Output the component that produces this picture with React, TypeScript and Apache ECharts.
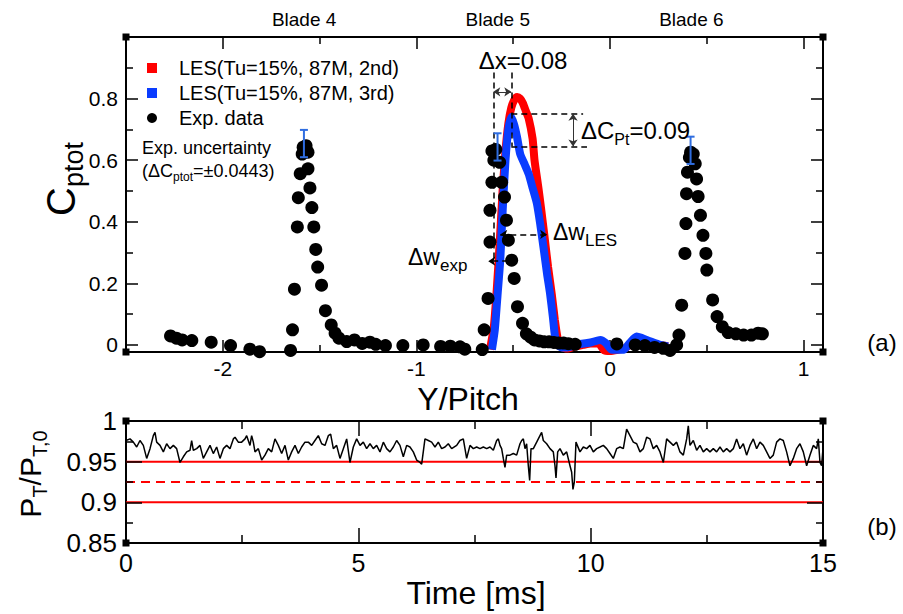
import React, { useEffect, useRef } from "react";
import * as echarts from "echarts";

const FONT = "'Liberation Sans', Arial, Helvetica, sans-serif";

// ---------- Panel (a): total pressure coefficient vs Y/Pitch ----------
const blade4Exp: [number, number][] = [
  [-2.27, 0.029], [-2.24, 0.022], [-2.21, 0.016], [-2.16, 0.014], [-2.06, 0.009],
  [-1.96, -0.002], [-1.86, -0.014], [-1.81, -0.022], [-1.65, -0.018], [-1.64, 0.049],
  [-1.63, 0.181], [-1.615, 0.383], [-1.61, 0.478], [-1.6, 0.556], [-1.59, 0.62],
  [-1.585, 0.642], [-1.57, 0.647], [-1.56, 0.626], [-1.56, 0.572], [-1.55, 0.51],
  [-1.54, 0.446], [-1.53, 0.383], [-1.52, 0.31], [-1.51, 0.253], [-1.49, 0.194],
  [-1.47, 0.111], [-1.44, 0.065], [-1.42, 0.038], [-1.4, 0.022], [-1.36, 0.011],
  [-1.32, 0.016], [-1.28, 0.005], [-1.24, 0.009], [-1.21, 0.002], [-1.16, -0.002],
  [-1.07, -0.002],
];
const blade5Exp: [number, number][] = [
  [-0.965, 0.0], [-0.875, -0.005], [-0.825, -0.004], [-0.775, -0.006], [-0.75, -0.014],
  [-0.66, -0.015], [-0.65, 0.049], [-0.63, 0.151], [-0.62, 0.334], [-0.62, 0.437],
  [-0.61, 0.528], [-0.6, 0.6], [-0.61, 0.63], [-0.59, 0.635], [-0.57, 0.593],
  [-0.56, 0.528], [-0.545, 0.48], [-0.535, 0.405], [-0.525, 0.34], [-0.508, 0.275],
  [-0.495, 0.216], [-0.478, 0.124], [-0.452, 0.07], [-0.432, 0.036], [-0.41, 0.025],
  [-0.39, 0.016], [-0.365, 0.013], [-0.34, 0.01], [-0.315, 0.01], [-0.29, 0.008],
  [-0.265, 0.006], [-0.24, 0.006], [-0.215, 0.004], [-0.18, 0.002],
];
const blade6Exp: [number, number][] = [
  [0.035, 0.003], [0.13, 0.0], [0.18, -0.002], [0.23, -0.008], [0.275, -0.011],
  [0.31, -0.018], [0.344, 0.0], [0.356, 0.032], [0.37, 0.129], [0.387, 0.297],
  [0.392, 0.394], [0.395, 0.491], [0.4, 0.561], [0.41, 0.609], [0.416, 0.626],
  [0.43, 0.62], [0.44, 0.588], [0.447, 0.539], [0.455, 0.482], [0.467, 0.421],
  [0.48, 0.356], [0.495, 0.297], [0.5, 0.243], [0.53, 0.146], [0.553, 0.092],
  [0.58, 0.059], [0.61, 0.04], [0.65, 0.036], [0.69, 0.032], [0.73, 0.032],
  [0.765, 0.038], [0.787, 0.036],
];
const les2nd: [number, number][] = [
  [-0.62, -0.015], [-0.6, 0.06], [-0.585, 0.18], [-0.57, 0.33], [-0.555, 0.5],
  [-0.54, 0.63], [-0.525, 0.72], [-0.51, 0.77], [-0.495, 0.795], [-0.48, 0.805],
  [-0.465, 0.8], [-0.45, 0.785], [-0.435, 0.76], [-0.42, 0.735], [-0.4, 0.67],
  [-0.39, 0.6], [-0.37, 0.51], [-0.355, 0.437], [-0.34, 0.36], [-0.32, 0.253],
  [-0.3, 0.16], [-0.285, 0.081], [-0.27, 0.02], [-0.255, -0.005], [-0.22, -0.012],
  [-0.18, -0.005], [-0.14, 0.0], [-0.1, 0.005], [-0.06, 0.005], [-0.03, -0.018],
  [0.0, -0.02], [0.04, -0.016], [0.08, -0.01], [0.12, 0.01], [0.16, 0.015],
  [0.2, 0.008], [0.25, 0.0], [0.3, -0.004],
];
const les3rd: [number, number][] = [
  [-0.61, -0.015], [-0.595, 0.05], [-0.58, 0.17], [-0.567, 0.275], [-0.555, 0.43],
  [-0.54, 0.6], [-0.525, 0.7], [-0.51, 0.74], [-0.495, 0.715], [-0.48, 0.674],
  [-0.464, 0.62], [-0.44, 0.585], [-0.42, 0.555], [-0.4, 0.51], [-0.378, 0.46],
  [-0.36, 0.39], [-0.344, 0.318], [-0.325, 0.23], [-0.31, 0.168], [-0.295, 0.09],
  [-0.284, 0.027], [-0.27, 0.0], [-0.25, -0.008], [-0.22, -0.008], [-0.155, 0.003],
  [-0.1, 0.008], [-0.05, 0.016], [-0.02, 0.005], [0.01, -0.016], [0.07, -0.016],
  [0.1, 0.005], [0.137, 0.027], [0.19, 0.016], [0.26, 0.0], [0.3, -0.005],
];
const errBarX = [-1.581, -0.581, 0.416];
const errBarY = [0.654, 0.643, 0.632];
const errBarHalf = 0.0443;
const bladeNames = ["Blade 4", "Blade 5", "Blade 6"];
const bladePos = [-1.58, -0.58, 0.42];
const xMajorA = [-2, -1, 0, 1];
const xMinorA = [-1.5, -0.5, 0.5];
const yMajorA = [0, 0.2, 0.4, 0.6, 0.8];
const yMinorA = [0.1, 0.3, 0.5, 0.7, 0.9];

// annotation guides (data coordinates)
const guideDashed: [number, number][][] = [
  [[-0.603, 0.885], [-0.603, 0.272]],
  [[-0.51, 0.885], [-0.51, 0.644]],
  [[-0.51, 0.751], [-0.139, 0.751]],
  [[-0.51, 0.644], [-0.119, 0.644]],
];
const guideArrowsSolid: [number, number][][] = [
  [[-0.603, 0.822], [-0.51, 0.822]],
  [[-0.191, 0.751], [-0.191, 0.644]],
];
const guideArrowsDashed: [number, number][][] = [
  [[-0.567, 0.359], [-0.325, 0.359]],
];
const guideArrowOneSide: [number, number][][] = [
  [[-0.526, 0.272], [-0.629, 0.272]],
];

// ---------- Panel (b): P_T / P_T,0 vs time ----------
const totalPressure: [number, number][] = [
  [0, 0.976], [0.014, 0.976], [0.086, 0.978], [0.158, 0.974], [0.23, 0.968], [0.301, 0.976],
  [0.373, 0.97], [0.445, 0.954], [0.517, 0.966], [0.588, 0.982], [0.624, 0.986], [0.66, 0.974],
  [0.732, 0.97], [0.804, 0.962], [0.875, 0.972], [0.947, 0.966], [1.019, 0.97], [1.09, 0.966],
  [1.162, 0.949], [1.234, 0.956], [1.306, 0.962], [1.377, 0.964], [1.413, 0.976], [1.449, 0.964],
  [1.521, 0.966], [1.593, 0.97], [1.664, 0.954], [1.736, 0.962], [1.808, 0.97], [1.879, 0.96],
  [1.951, 0.968], [2.023, 0.954], [2.095, 0.966], [2.166, 0.97], [2.238, 0.966], [2.31, 0.978],
  [2.346, 0.98], [2.417, 0.974], [2.489, 0.974], [2.561, 0.978], [2.597, 0.982], [2.668, 0.97],
  [2.704, 0.982], [2.74, 0.974], [2.776, 0.962], [2.848, 0.966], [2.92, 0.952], [2.991, 0.958],
  [3.063, 0.966], [3.135, 0.962], [3.206, 0.978], [3.278, 0.97], [3.35, 0.96], [3.422, 0.97],
  [3.493, 0.952], [3.565, 0.962], [3.637, 0.97], [3.709, 0.96], [3.78, 0.968], [3.852, 0.974],
  [3.924, 0.974], [3.996, 0.97], [4.067, 0.976], [4.139, 0.982], [4.211, 0.972], [4.282, 0.97],
  [4.354, 0.982], [4.404, 0.984], [4.462, 0.966], [4.533, 0.97], [4.605, 0.954], [4.677, 0.966],
  [4.749, 0.978], [4.82, 0.949], [4.892, 0.968], [4.964, 0.978], [5.036, 0.97], [5.107, 0.974],
  [5.179, 0.966], [5.251, 0.972], [5.322, 0.966], [5.394, 0.97], [5.466, 0.962], [5.538, 0.974],
  [5.609, 0.966], [5.681, 0.962], [5.753, 0.968], [5.825, 0.976], [5.896, 0.97], [5.968, 0.956],
  [6.04, 0.97], [6.111, 0.968], [6.183, 0.962], [6.255, 0.952], [6.327, 0.949], [6.363, 0.947],
  [6.434, 0.978], [6.506, 0.976], [6.578, 0.974], [6.65, 0.968], [6.721, 0.974], [6.793, 0.966],
  [6.865, 0.968], [6.936, 0.972], [7.008, 0.966], [7.116, 0.97], [7.187, 0.976], [7.259, 0.978],
  [7.331, 0.954], [7.403, 0.97], [7.475, 0.966], [7.546, 0.968], [7.618, 0.966], [7.69, 0.968],
  [7.762, 0.966], [7.833, 0.968], [7.905, 0.964], [7.977, 0.976], [8.013, 0.978], [8.049, 0.97],
  [8.084, 0.966], [8.12, 0.954], [8.156, 0.943], [8.192, 0.958], [8.264, 0.958], [8.335, 0.96],
  [8.407, 0.958], [8.479, 0.972], [8.515, 0.976], [8.551, 0.978], [8.587, 0.966], [8.622, 0.972],
  [8.658, 0.945], [8.687, 0.927], [8.716, 0.966], [8.766, 0.966], [8.838, 0.974], [8.909, 0.982],
  [8.945, 0.986], [8.981, 0.976], [9.053, 0.972], [9.125, 0.966], [9.196, 0.962], [9.232, 0.945],
  [9.254, 0.93], [9.29, 0.962], [9.34, 0.966], [9.411, 0.958], [9.483, 0.962], [9.555, 0.945],
  [9.591, 0.937], [9.619, 0.916], [9.648, 0.925], [9.684, 0.974], [9.77, 0.962], [9.842, 0.968],
  [9.914, 0.966], [9.985, 0.97], [10.057, 0.962], [10.129, 0.966], [10.201, 0.968], [10.272, 0.97],
  [10.344, 0.966], [10.416, 0.96], [10.487, 0.954], [10.559, 0.966], [10.631, 0.968], [10.703, 0.966],
  [10.774, 0.99], [10.846, 0.982], [10.918, 0.974], [10.99, 0.972], [11.061, 0.962], [11.133, 0.966],
  [11.205, 0.98], [11.277, 0.978], [11.348, 0.966], [11.42, 0.97], [11.492, 0.962], [11.564, 0.949],
  [11.635, 0.978], [11.707, 0.974], [11.779, 0.97], [11.85, 0.974], [11.922, 0.962], [11.994, 0.958],
  [12.066, 0.978], [12.101, 0.994], [12.137, 0.97], [12.209, 0.976], [12.281, 0.964], [12.352, 0.97],
  [12.424, 0.962], [12.496, 0.966], [12.568, 0.962], [12.639, 0.966], [12.711, 0.962], [12.783, 0.968],
  [12.854, 0.962], [12.926, 0.966], [12.998, 0.962], [13.07, 0.966], [13.141, 0.978], [13.213, 0.966],
  [13.285, 0.972], [13.356, 0.958], [13.428, 0.97], [13.5, 0.978], [13.572, 0.966], [13.643, 0.974],
  [13.715, 0.97], [13.787, 0.962], [13.858, 0.954], [13.93, 0.958], [14.002, 0.974], [14.074, 0.978],
  [14.145, 0.976], [14.217, 0.962], [14.289, 0.945], [14.361, 0.954], [14.432, 0.966], [14.504, 0.972],
  [14.576, 0.962], [14.648, 0.945], [14.719, 0.958], [14.791, 0.97], [14.863, 0.966], [14.899, 0.978],
  [14.935, 0.949], [14.97, 0.945], [15, 0.966],
];
const refSolidLevels = [0.95, 0.9];
const refDashedLevel = 0.925;
const timeRange = [0, 15];
const xMajorB = [5, 10];
const xLabelsB = [0, 5, 10, 15];
const xMinorB = [2.5, 7.5, 12.5];
const yMajorB = [0.9, 0.95];
const yLabelsB = [0.85, 0.9, 0.95, 1];
const yMinorB = [0.875, 0.925, 0.975];

const LES2 = "LES(Tu=15%, 87M, 2nd)";
const LES3 = "LES(Tu=15%, 87M, 3rd)";
const EXP = "Exp. data";
const RED = "#ff0000";
const BLUE = "#0a3cff";

const tickLine = { color: "#000", width: 1.5 };

function ax(grid: number, pos: string, min: number, max: number, ticks: number[], len: number, label?: any) {
  return {
    type: "value", gridIndex: grid, position: pos, min, max, z: 3,
    axisLine: { show: false, onZero: false }, splitLine: { show: false },
    axisTick: { show: true, inside: true, length: len, customValues: ticks, lineStyle: tickLine },
    axisLabel: label ? label : { show: false },
  };
}

function subText(x: number, y: number, text: string, F: number, f: number, L: number, align: string, rotation = 0) {
  return {
    type: "text", x, y, rotation, silent: true, z: 100,
    style: {
      text, align, verticalAlign: "middle", textAlign: align, textVerticalAlign: "middle",
      fill: "#000", fontFamily: FONT, fontSize: F,
      rich: {
        m: { fontSize: F, lineHeight: L, fontFamily: FONT, fill: "#000" },
        s: { fontSize: f, lineHeight: f, verticalAlign: "bottom", fontFamily: FONT, fill: "#000" },
      },
    },
  };
}
function plainText(x: number, y: number, text: string, size: number, align = "center", rotation = 0) {
  return {
    type: "text", x, y, rotation, silent: true, z: 100,
    style: {
      text, align, verticalAlign: "middle", textAlign: align, textVerticalAlign: "middle",
      fill: "#000", fontFamily: FONT, fontSize: size,
    },
  };
}
function corner(cx: number, cy: number) {
  return { type: "rect", shape: { x: cx - 3.5, y: cy - 3.5, width: 7, height: 7 }, style: { fill: "#000" }, silent: true, z: 100 };
}

export default function App() {
  const ref = useRef<HTMLDivElement>(null);
  useEffect(() => {
    if (!ref.current) return;
    const chart = echarts.init(ref.current, null, { renderer: "svg" });

    const mk = (pair: [number, number][], opts: any, endSym: string[]) => [
      { coord: pair[0], symbol: endSym[0], symbolSize: 7, lineStyle: opts },
      { coord: pair[1], symbol: endSym[1], symbolSize: 7 },
    ];
    const dashStyle = { type: [6, 4], color: "#000", width: 1.5 };
    const solidThin = { type: "solid", color: "#333", width: 1 };

    const option: any = {
      animation: false,
      backgroundColor: "#fff",
      textStyle: { fontFamily: FONT },
      grid: [
        { left: 126, top: 37, width: 697, height: 315, show: true, borderColor: "#000", borderWidth: 2, backgroundColor: "transparent" },
        { left: 126, top: 421, width: 697, height: 122, show: true, borderColor: "#000", borderWidth: 2, backgroundColor: "transparent" },
      ],
      legend: {
        left: 142, top: 53, orient: "vertical", itemGap: 5, itemWidth: 10, itemHeight: 10,
        textStyle: { fontSize: 20, color: "#000", fontFamily: FONT, padding: [0, 0, 0, 17] },
        data: [
          { name: LES2, icon: "rect" },
          { name: LES3, icon: "rect" },
          { name: EXP, icon: "circle" },
        ],
        selectedMode: false,
      },
      xAxis: [
        ax(0, "bottom", -2.5, 1.1, xMajorA, 12, {
          show: true, customValues: xMajorA, fontSize: 21, color: "#000", margin: 6, fontFamily: FONT,
        }),
        ax(0, "bottom", -2.5, 1.1, xMinorA, 7),
        ax(0, "top", -2.5, 1.1, xMajorA, 12, {
          show: true, customValues: bladePos, fontSize: 19, color: "#000", margin: 8, fontFamily: FONT,
          formatter: (v: number) => {
            let best = 0;
            bladePos.forEach((b, i) => { if (Math.abs(b - v) < Math.abs(bladePos[best] - v)) best = i; });
            return bladeNames[best];
          },
        }),
        ax(0, "top", -2.5, 1.1, xMinorA, 7),
        ax(1, "bottom", timeRange[0], timeRange[1], xMajorB, 15, {
          show: true, customValues: xLabelsB, fontSize: 25, color: "#000", margin: 7, fontFamily: FONT,
        }),
        ax(1, "bottom", timeRange[0], timeRange[1], xMinorB, 8),
        ax(1, "top", timeRange[0], timeRange[1], xMajorB, 15),
        ax(1, "top", timeRange[0], timeRange[1], xMinorB, 8),
      ],
      yAxis: [
        ax(0, "left", -0.023, 1.0, yMajorA, 12, {
          show: true, customValues: yMajorA, fontSize: 21, color: "#000", margin: 8, fontFamily: FONT,
        }),
        ax(0, "left", -0.023, 1.0, yMinorA, 7),
        ax(0, "right", -0.023, 1.0, yMajorA, 12),
        ax(0, "right", -0.023, 1.0, yMinorA, 7),
        ax(1, "left", 0.85, 1.0, yMajorB, 16, {
          show: true, customValues: yLabelsB, fontSize: 26, color: "#000", margin: 9, fontFamily: FONT,
        }),
        ax(1, "left", 0.85, 1.0, yMinorB, 7),
        ax(1, "right", 0.85, 1.0, yMajorB, 16),
        ax(1, "right", 0.85, 1.0, yMinorB, 7),
      ],
      series: [
        {
          name: LES2, type: "line", xAxisIndex: 0, yAxisIndex: 0, data: les2nd, showSymbol: false, symbol: "none",
          smooth: 0.2, lineStyle: { color: RED, width: 8 }, itemStyle: { color: RED }, z: 2,
        },
        {
          name: LES3, type: "line", xAxisIndex: 0, yAxisIndex: 0, data: les3rd, showSymbol: false, symbol: "none",
          smooth: 0.2, lineStyle: { color: BLUE, width: 8 }, itemStyle: { color: BLUE }, z: 3,
        },
        {
          name: EXP, type: "scatter", xAxisIndex: 0, yAxisIndex: 0,
          data: [...blade4Exp, ...blade5Exp, ...blade6Exp],
          symbolSize: 13, itemStyle: { color: "#000", opacity: 1 }, z: 4,
        },
        {
          name: "uncertainty", type: "custom", xAxisIndex: 0, yAxisIndex: 0, z: 5,
          data: errBarX.map((x, i) => [x, errBarY[i], errBarHalf]),
          renderItem: (_p: any, api: any) => {
            const x = api.value(0), y = api.value(1), e = api.value(2);
            const t = api.coord([x, y + e]);
            const b = api.coord([x, y - e]);
            const st = { stroke: "#2f6de0", lineWidth: 2 };
            return {
              type: "group",
              children: [
                { type: "line", shape: { x1: t[0], y1: t[1], x2: b[0], y2: b[1] }, style: st },
                { type: "line", shape: { x1: t[0] - 4, y1: t[1], x2: t[0] + 4, y2: t[1] }, style: st },
                { type: "line", shape: { x1: b[0] - 4, y1: b[1], x2: b[0] + 4, y2: b[1] }, style: st },
              ],
            };
          },
        },
        {
          name: "guides", type: "line", xAxisIndex: 0, yAxisIndex: 0, data: [], z: 6,
          markLine: {
            silent: true, animation: false, label: { show: false }, emphasis: { disabled: true },
            symbol: ["none", "none"],
            data: [
              ...guideDashed.map((p) => mk(p, dashStyle, ["none", "none"])),
              ...guideArrowsSolid.map((p) => mk(p, solidThin, ["arrow", "arrow"])),
              ...guideArrowsDashed.map((p) => mk(p, dashStyle, ["arrow", "arrow"])),
              ...guideArrowOneSide.map((p) => mk(p, dashStyle, ["none", "arrow"])),
            ],
          },
        },
        ...refSolidLevels.map((lv) => ({
          name: "ref" + lv, type: "line", xAxisIndex: 4, yAxisIndex: 4, showSymbol: false, symbol: "none",
          data: timeRange.map((t) => [t, lv]), lineStyle: { color: RED, width: 2 }, z: 2,
        })),
        {
          name: "refMean", type: "line", xAxisIndex: 4, yAxisIndex: 4, showSymbol: false, symbol: "none",
          data: timeRange.map((t) => [t, refDashedLevel]), lineStyle: { color: RED, width: 2, type: [9, 6] }, z: 2,
        },
        {
          name: "PT", type: "line", xAxisIndex: 4, yAxisIndex: 4, showSymbol: false, symbol: "none",
          data: totalPressure, lineStyle: { color: "#000", width: 1.5 }, z: 4,
        },
      ],
      graphic: [
        plainText(142, 148, "Exp. uncertainty", 18, "left"),
        subText(142, 171, "{m|(ΔC}{s|ptot}{m|=±0.0443)}", 18, 12, 24, "left"),
        plainText(523, 60, "Δx=0.08", 24),
        subText(581, 130, "{m|ΔC}{s|Pt}{m|=0.09}", 24, 16, 34, "left"),
        subText(553, 232, "{m|Δw}{s|LES}", 23, 17, 34, "left"),
        subText(408, 257, "{m|Δw}{s|exp}", 23, 17, 34, "left"),
        subText(61, 179, "{m|C}{s|ptot}", 40, 27, 52, "center", Math.PI / 2),
        plainText(468, 399, "Y/Pitch", 32),
        subText(30, 474, "{m|P}{s|T}{m|/P}{s|T,0}", 30, 20, 40, "center", Math.PI / 2),
        plainText(476, 593, "Time [ms]", 32),
        plainText(882, 342, "(a)", 24),
        plainText(882, 526, "(b)", 24),
        corner(126, 37), corner(823, 37), corner(126, 352), corner(823, 352),
        corner(126, 421), corner(823, 421), corner(126, 543), corner(823, 543),
      ],
    };
    chart.setOption(option);
    return () => chart.dispose();
  }, []);

  return (
    <div
      ref={ref}
      style={{ position: "absolute", left: 0, top: 0, width: 903, height: 614, background: "#fff" }}
    />
  );
}
